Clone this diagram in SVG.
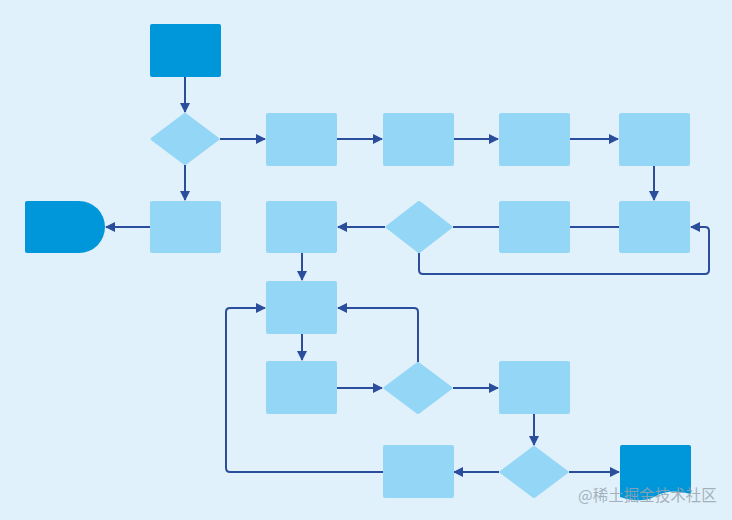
<svg xmlns="http://www.w3.org/2000/svg" width="732" height="520" viewBox="0 0 732 520">
<style>
.p{fill:#93d6f5}
.d{fill:#0097da}
.c{fill:none;stroke:#2a4e9c;stroke-width:2;stroke-linejoin:round}
.wm{font-family:"Noto Sans CJK SC","Liberation Sans",sans-serif;font-size:15.5px;fill:#9aa4ac;fill-opacity:0.85}
</style>
<defs>
<marker id="ah" viewBox="0 0 10 10" refX="9" refY="5" markerWidth="5" markerHeight="5" orient="auto" markerUnits="strokeWidth">
<path d="M0,0 L10,5 L0,10 z" fill="#2a4e9c"/>
</marker>
</defs>
<rect width="732" height="520" fill="#e0f1fc"/>
<g id="connectors">
<path class="c" marker-end="url(#ah)" d="M185,77 V112"/>
<path class="c" marker-end="url(#ah)" d="M220,139 H265"/>
<path class="c" marker-end="url(#ah)" d="M185,165 V200"/>
<path class="c" marker-end="url(#ah)" d="M337,139 H382"/>
<path class="c" marker-end="url(#ah)" d="M453,139 H498"/>
<path class="c" marker-end="url(#ah)" d="M570,139 H618"/>
<path class="c" marker-end="url(#ah)" d="M654,166 V200"/>
<path class="c" d="M570,227 H619"/>
<path class="c" d="M453,227 H499"/>
<path class="c" marker-end="url(#ah)" d="M385,227 H338"/>
<path class="c" marker-end="url(#ah)" d="M419,253 V270 Q419,274 423,274 H705 Q709,274 709,270 V231 Q709,227 705,227 H691"/>
<path class="c" marker-end="url(#ah)" d="M150,227 H106"/>
<path class="c" marker-end="url(#ah)" d="M302,253 V280"/>
<path class="c" marker-end="url(#ah)" d="M302,334 V360"/>
<path class="c" marker-end="url(#ah)" d="M337,388 H382"/>
<path class="c" marker-end="url(#ah)" d="M418,362 V312 Q418,308 414,308 H338"/>
<path class="c" marker-end="url(#ah)" d="M453,388 H498"/>
<path class="c" marker-end="url(#ah)" d="M534,414 V445"/>
<path class="c" marker-end="url(#ah)" d="M499,472 H454"/>
<path class="c" marker-end="url(#ah)" d="M569,472 H619"/>
<path class="c" marker-end="url(#ah)" d="M383,472 H230 Q226,472 226,468 V312 Q226,308 230,308 H265"/>
</g>
<g id="start"><rect class="d" x="150" y="24" width="71" height="53" rx="2"/></g>
<g id="dec1"><path class="p" d="M183,114 Q185,112 187,114 L219,138 Q220,139 219,140 L187,164 Q185,166 183,164 L151,140 Q150,139 151,138 Z"/></g>
<g id="r1"><rect class="p" x="266" y="113" width="71" height="53" rx="2"/></g>
<g id="r2"><rect class="p" x="383" y="113" width="71" height="53" rx="2"/></g>
<g id="r3"><rect class="p" x="499" y="113" width="71" height="53" rx="2"/></g>
<g id="r4"><rect class="p" x="619" y="113" width="71" height="53" rx="2"/></g>
<g id="end"><path class="d" d="M27,201 H79 A26,26 0 0 1 79,253 H27 Q25,253 25,251 V203 Q25,201 27,201 Z"/></g>
<g id="r5"><rect class="p" x="150" y="201" width="71" height="52" rx="2"/></g>
<g id="r6"><rect class="p" x="266" y="201" width="71" height="52" rx="2"/></g>
<g id="dec2"><path class="p" d="M417,202 Q419,200 421,202 L452,226 Q453,227 452,228 L421,252 Q419,254 417,252 L386,228 Q385,227 386,226 Z"/></g>
<g id="r7"><rect class="p" x="499" y="201" width="71" height="52" rx="2"/></g>
<g id="r8"><rect class="p" x="619" y="201" width="71" height="52" rx="2"/></g>
<g id="r9"><rect class="p" x="266" y="281" width="71" height="53" rx="2"/></g>
<g id="r10"><rect class="p" x="266" y="361" width="71" height="53" rx="2"/></g>
<g id="dec3"><path class="p" d="M416,363 Q418,361 420,363 L452,387 Q453,388 452,389 L420,413 Q418,415 416,413 L384,389 Q383,388 384,387 Z"/></g>
<g id="r11"><rect class="p" x="499" y="361" width="71" height="53" rx="2"/></g>
<g id="r12"><rect class="p" x="383" y="445" width="71" height="53" rx="2"/></g>
<g id="dec4"><path class="p" d="M532,447 Q534,445 536,447 L568,471 Q569,472 568,473 L536,497 Q534,499 532,497 L500,473 Q499,472 500,471 Z"/></g>
<g id="doc"><path class="d" d="M622,445 H689 Q691,445 691,447 V494 Q670,488 656,496 Q642,504 620,497 V447 Q620,445 622,445 Z"/></g>
<text class="wm" x="578" y="501">@稀土掘金技术社区</text>
</svg>
